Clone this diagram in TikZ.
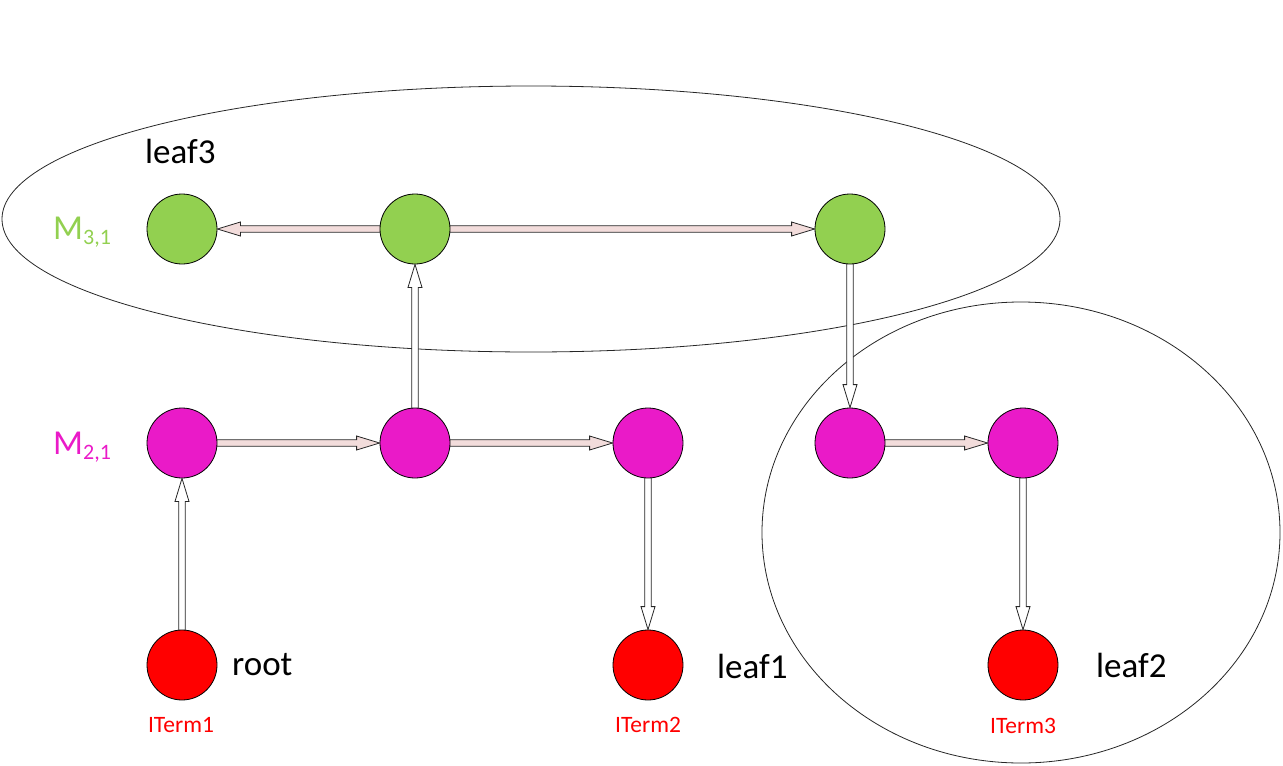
\documentclass[tikz,border=0pt]{standalone}
\usepackage{fontspec}
\setmainfont{Carlito}
\usetikzlibrary{calc,backgrounds}
\definecolor{lgreen}{HTML}{92D050}
\definecolor{mag}{HTML}{EA1AC8}
\definecolor{pinkfill}{HTML}{F2DCDB}
\tikzset{
  dot/.style={circle, draw=black, line width=0.8pt, minimum size=70pt, inner sep=0pt},
  gdot/.style={dot, fill=lgreen},
  mdot/.style={dot, fill=mag},
  rdot/.style={dot, fill=red},
  blockarr/.style={draw=black!85, line width=0.8pt, line join=miter},
  hfill/.style={fill=pinkfill},
  vfill/.style={fill=white},
  lbl/.style={inner sep=0pt, anchor=base west, font=\fontsize{35}{42}\selectfont},
  term/.style={inner sep=0pt, anchor=base, text=red, font=\fontsize{23.5}{28}\selectfont},
  region/.style={draw=black!85, line width=0.8pt},
}
% block arrow (outlined shaft + head) from #2 to #3, extra style #1
\newcommand\blockarrow[3]{%
  \coordinate (bah) at ($(#3)!23pt!(#2)$);
  \path[blockarr,#1] ($(#2)!3.2pt!90:(#3)$) -- ($(bah)!3.2pt!-90:(#2)$)
    -- ($(bah)!7pt!-90:(#2)$) -- (#3) -- ($(bah)!7pt!90:(#2)$)
    -- ($(bah)!3.2pt!90:(#2)$) -- ($(#2)!3.2pt!-90:(#3)$) -- cycle;}
\begin{document}
\begin{tikzpicture}[x=1pt, y=-1pt]
\useasboundingbox (0,0) rectangle (1283,766);

% level 3
\node[gdot] (g1) at (182,229) {};
\node[gdot] (g2) at (415,229) {};
\node[gdot] (g3) at (850,229) {};
% level 2
\node[mdot] (m1) at (182,443) {};
\node[mdot] (m2) at (415,443) {};
\node[mdot] (m3) at (648,443) {};
\node[mdot] (m4) at (850,443) {};
\node[mdot] (m5) at (1023,443) {};
% terminals
\node[rdot] (r1) at (182,665) {};
\node[rdot] (r2) at (648,665) {};
\node[rdot] (r3) at (1023,665) {};

\begin{pgfonlayer}{background}
  \draw[region] (531,219) ellipse [x radius=529pt, y radius=133pt];
  \draw[region] (1021,532.5) ellipse [x radius=259pt, y radius=230.5pt];
  \blockarrow{hfill}{g2}{g1.east}
  \blockarrow{hfill}{g2}{g3.west}
  \blockarrow{hfill}{m1}{m2.west}
  \blockarrow{hfill}{m2}{m3.west}
  \blockarrow{hfill}{m4}{m5.west}
  \blockarrow{vfill}{m2}{g2.south}
  \blockarrow{vfill}{g3}{m4.north}
  \blockarrow{vfill}{r1}{m1.south}
  \blockarrow{vfill}{m3}{r2.north}
  \blockarrow{vfill}{m5}{r3.north}
\end{pgfonlayer}

% labels
\node[lbl, text=lgreen] (l3) at (53,239) {M\raisebox{-5pt}{\fontsize{22}{26}\selectfont 3,1}};
\node[lbl, text=mag] (l2) at (53,454) {M\raisebox{-5pt}{\fontsize{22}{26}\selectfont 2,1}};
\node[lbl] (tleaf3) at (145,163) {leaf3};
\node[lbl] (troot) at (232,675) {root};
\node[lbl] (tleaf1) at (717,678) {leaf1};
\node[lbl] (tleaf2) at (1096,677) {leaf2};
\node[term] (t1) at (181,732) {ITerm1};
\node[term] (t2) at (648,732) {ITerm2};
\node[term] (t3) at (1023,733) {ITerm3};
\end{tikzpicture}
\end{document}
